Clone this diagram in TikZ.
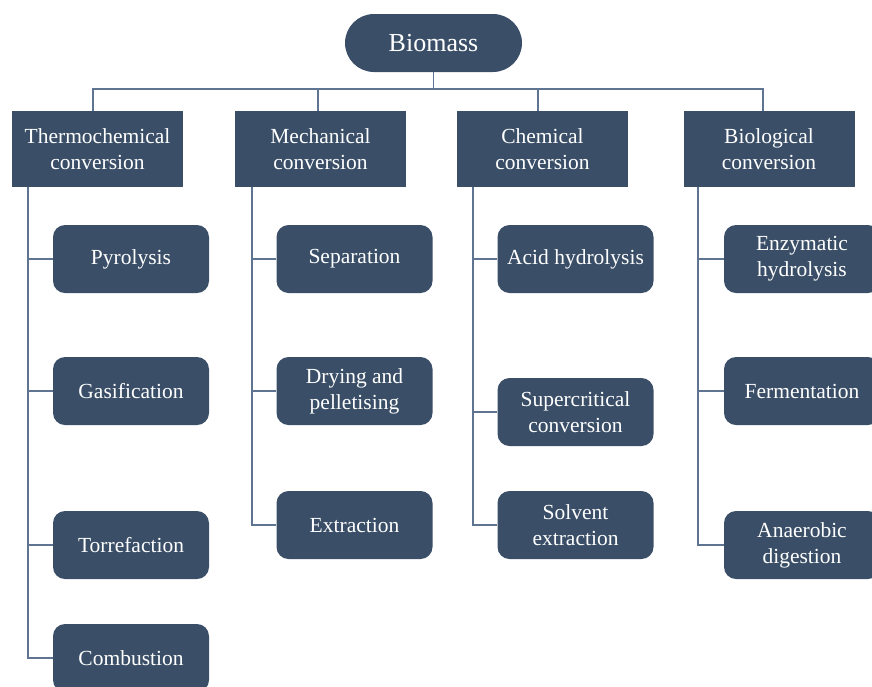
\documentclass[tikz,border=0pt]{standalone}
\usepackage{fontspec}
\setmainfont{Liberation Serif}
\definecolor{boxfill}{HTML}{3A4F67}
\definecolor{linec}{HTML}{5E7490}
\begin{document}
\begin{tikzpicture}[x=1pt,y=-1pt,
  base/.style={fill=boxfill,text=white,align=center,inner sep=0pt,font=\fontsize{21.5}{26}\selectfont},
  cat/.style={base,minimum width=171pt,minimum height=76pt},
  sub/.style={base,rounded corners=12pt,minimum width=156pt,minimum height=68pt},
  top/.style={base,rounded corners=29pt,minimum width=177pt,minimum height=58pt,font=\fontsize{26}{30}\selectfont},
  conn/.style={draw=linec,line width=1.8pt}]
\useasboundingbox (0,0) rectangle (872,686);
\clip (0,0) rectangle (872,686);
\node[top] (bio) at (433.5,43) {Biomass};
\coordinate (bus) at (0,89);
\node[cat] (thermo) at (97.5,149) {Thermochemical\\conversion};
\node[cat] (mech) at (320.5,149) {Mechanical\\conversion};
\node[cat] (chem) at (542.5,149) {Chemical\\conversion};
\node[cat] (biol) at (769,149) {Biological\\conversion};
\coordinate (tA) at (28,0);
\coordinate (tB) at (252,0);
\coordinate (tC) at (473,0);
\coordinate (tD) at (698,0);
% thermochemical children
\node[sub] (pyro) at (131,259) {Pyrolysis};
\node[sub] (gasi) at (131,391) {Gasification};
\node[sub] (torr) at (131,545) {Torrefaction};
\node[sub] (comb) at (131,658) {Combustion};
% mechanical
\node[sub] (sepa) at (354.5,259) {Separation};
\node[sub] (dryi) at (354.5,391) {Drying and\\pelletising};
\node[sub] (extr) at (354.5,525) {Extraction};
% chemical
\node[sub] (acid) at (575.5,259) {Acid hydrolysis};
\node[sub] (supe) at (575.5,412) {Supercritical\\conversion};
\node[sub] (solv) at (575.5,525) {Solvent\\extraction};
% biological
\node[sub] (enzy) at (802,259) {Enzymatic\\hydrolysis};
\node[sub] (ferm) at (802,391) {Fermentation};
\node[sub] (anae) at (802,545) {Anaerobic\\digestion};
% top connectors
\draw[conn] (bio.south) -- (bio.south |- bus);
\draw[conn] (thermo.north -| 93,0) |- (bio.south |- bus) -| (biol.north -| 763,0);
\draw[conn] (mech.north -| 318,0) -- (318,89);
\draw[conn] (chem.north -| 538,0) -- (538,89);
% trunks
\draw[conn] (thermo.south -| tA) |- (comb.west);
\draw[conn] (pyro.west) -- (pyro.west -| tA);
\draw[conn] (gasi.west) -- (gasi.west -| tA);
\draw[conn] (torr.west) -- (torr.west -| tA);
\draw[conn] (mech.south -| tB) |- (extr.west);
\draw[conn] (sepa.west) -- (sepa.west -| tB);
\draw[conn] (dryi.west) -- (dryi.west -| tB);
\draw[conn] (chem.south -| tC) |- (solv.west);
\draw[conn] (acid.west) -- (acid.west -| tC);
\draw[conn] (supe.west) -- (supe.west -| tC);
\draw[conn] (biol.south -| tD) |- (anae.west);
\draw[conn] (enzy.west) -- (enzy.west -| tD);
\draw[conn] (ferm.west) -- (ferm.west -| tD);
\end{tikzpicture}
\end{document}
